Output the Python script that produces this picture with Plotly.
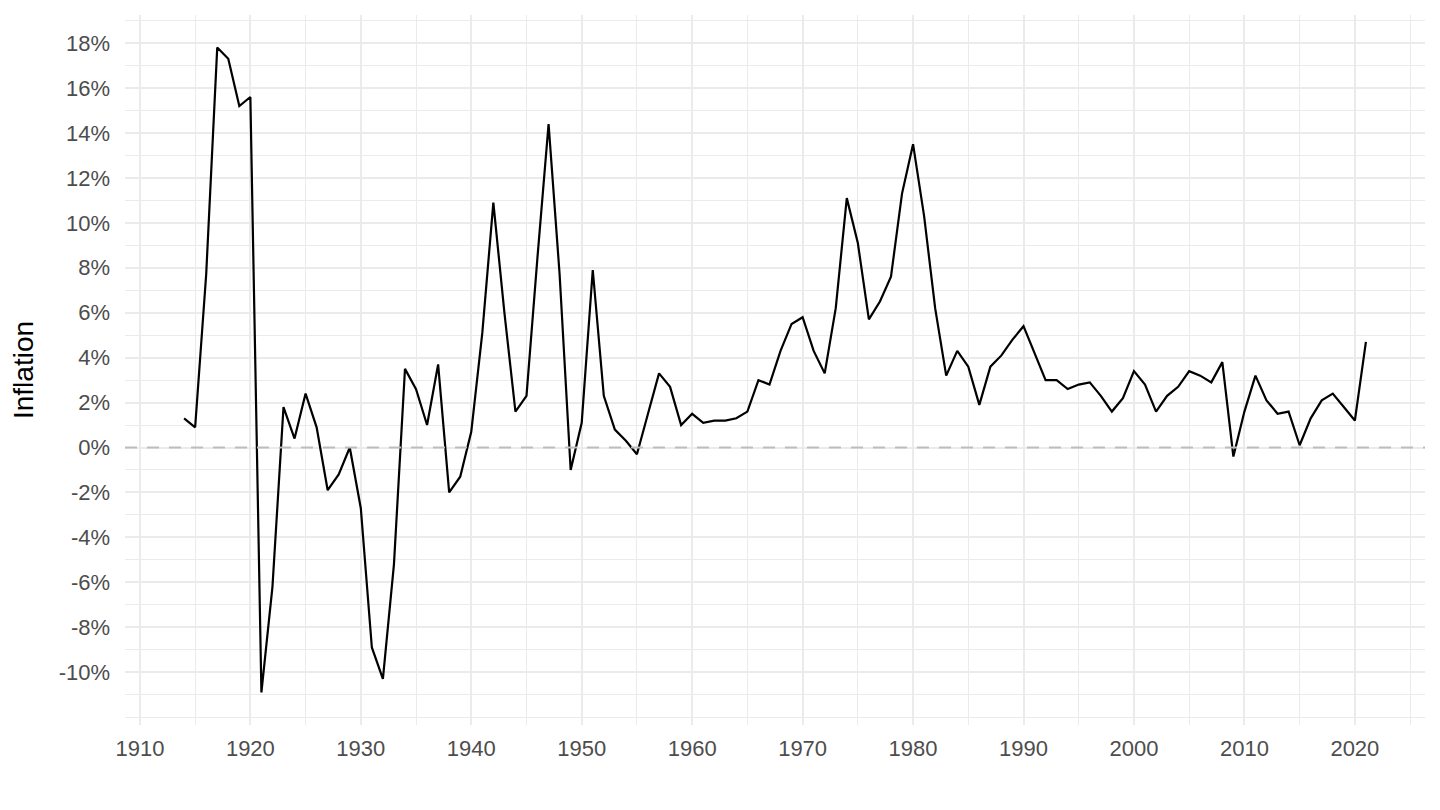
import plotly.graph_objects as go

years = list(range(1914, 2022))
inflation = [
    1.3, 0.9, 7.7, 17.8, 17.3, 15.2, 15.6, -10.9, -6.2, 1.8,   # 1914-1923
    0.4, 2.4, 0.9, -1.9, -1.2, 0.0, -2.7, -8.9, -10.3, -5.2,   # 1924-1933
    3.5, 2.6, 1.0, 3.7, -2.0, -1.3, 0.7, 5.1, 10.9, 6.0,       # 1934-1943
    1.6, 2.3, 8.5, 14.4, 7.7, -1.0, 1.1, 7.9, 2.3, 0.8,        # 1944-1953
    0.3, -0.3, 1.5, 3.3, 2.7, 1.0, 1.5, 1.1, 1.2, 1.2,         # 1954-1963
    1.3, 1.6, 3.0, 2.8, 4.3, 5.5, 5.8, 4.3, 3.3, 6.2,          # 1964-1973
    11.1, 9.1, 5.7, 6.5, 7.6, 11.3, 13.5, 10.3, 6.2, 3.2,      # 1974-1983
    4.3, 3.6, 1.9, 3.6, 4.1, 4.8, 5.4, 4.2, 3.0, 3.0,          # 1984-1993
    2.6, 2.8, 2.9, 2.3, 1.6, 2.2, 3.4, 2.8, 1.6, 2.3,          # 1994-2003
    2.7, 3.4, 3.2, 2.9, 3.8, -0.4, 1.6, 3.2, 2.1, 1.5,         # 2004-2013
    1.6, 0.1, 1.3, 2.1, 2.4, 1.8, 1.2, 4.7,                    # 2014-2021
]

x_ticks = list(range(1910, 2021, 10))
x_tick_labels = [str(v) for v in x_ticks]
x_minor = list(range(1915, 2026, 10))
y_ticks = list(range(-10, 19, 2))
y_tick_labels = [f"{v}%" for v in y_ticks]
y_minor = list(range(-11, 20, 2)) + [-12]

FONT = "Liberation Sans, Arial, Helvetica, sans-serif"
GRID = "#ebebeb"

fig = go.Figure()
fig.add_trace(go.Scatter(
    x=years, y=inflation, mode="lines",
    line=dict(color="black", width=2.2),
    showlegend=False, hoverinfo="x+y",
))
fig.add_hline(y=0, line=dict(color="#bdbdbd", width=2, dash="12px,10px"), layer="above")

# page body has an 8px margin, so the figure is offset by 8px; compensate
fig.update_layout(
    width=1432, height=802,
    margin=dict(l=117, r=15, t=7, b=85),
    plot_bgcolor="white", paper_bgcolor="white",
    font=dict(family=FONT, size=22, color="#4d4d4d"),
    showlegend=False,
)
fig.update_xaxes(
    range=[1908.65, 2026.35],
    tickmode="array", tickvals=x_ticks, ticktext=x_tick_labels,
    showgrid=True, gridcolor=GRID, gridwidth=2,
    minor=dict(tickmode="array", tickvals=x_minor, showgrid=True, gridcolor=GRID, gridwidth=1),
    zeroline=False, showline=False, ticks="", ticklabelstandoff=8,
    tickfont=dict(size=22, color="#4d4d4d"),
)
fig.update_yaxes(
    range=[-12.35, 19.25],
    tickmode="array", tickvals=y_ticks, ticktext=y_tick_labels,
    showgrid=True, gridcolor=GRID, gridwidth=2,
    minor=dict(tickmode="array", tickvals=y_minor, showgrid=True, gridcolor=GRID, gridwidth=1),
    zeroline=False, showline=False, ticks="", ticklabelstandoff=14,
    tickfont=dict(size=22, color="#4d4d4d"),
    title=dict(text="Inflation", font=dict(size=28, color="black", family=FONT), standoff=16),
)

fig.write_html("out.html")
